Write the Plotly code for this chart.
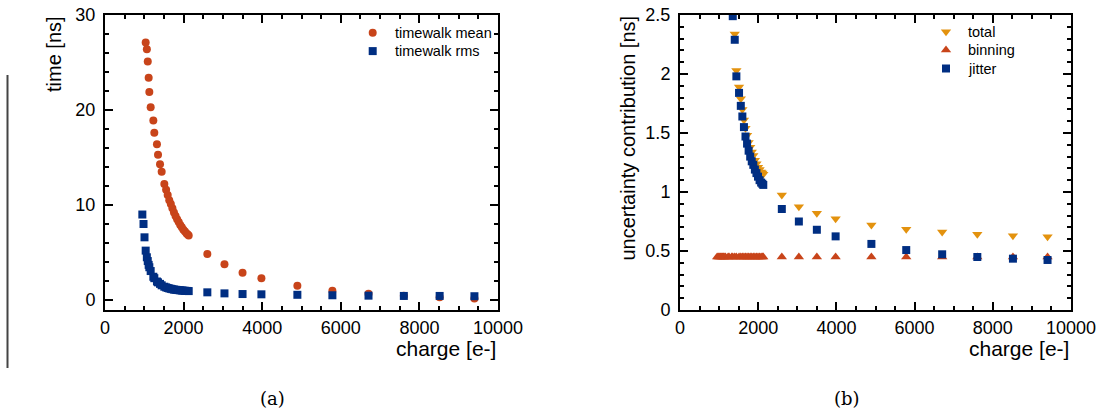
import plotly.graph_objects as go

# ---------------- data ----------------
charge = [950, 980, 1005, 1035, 1065, 1088, 1111, 1128, 1162, 1230, 1255, 1322, 1349,
          1400, 1442, 1510, 1555, 1595, 1635, 1675, 1715, 1755, 1795, 1835, 1875, 1915,
          1955, 1995, 2035, 2075, 2105, 2130,
          2604, 3040, 3500, 3980, 4895, 5786, 6705, 7604, 8515, 9400]

timewalk_mean = [None, None, None, 27.1, 26.4, 25.1, 23.4, 21.9, 20.3, 18.9, 17.6, 16.4, 15.3,
                 14.3, 13.5, 12.2, 11.6, 11.05, 10.5, 10.1, 9.65, 9.2, 8.85, 8.5, 8.2, 7.9,
                 7.65, 7.4, 7.2, 7.0, 6.9, 6.8,
                 4.84, 3.76, 2.88, 2.28, 1.5, 0.98, 0.66, 0.45, 0.3, 0.15]

timewalk_rms = [9.0, 8.0, 6.6, 5.2, 4.5, 4.1, 3.7, 3.45, 3.05, 2.45, 2.3, 1.95, 1.86,
                1.7, 1.55, 1.4, 1.33, 1.27, 1.22, 1.18, 1.14, 1.1, 1.08, 1.06, 1.04, 1.02,
                1.0, 0.99, 0.97, 0.96, 0.95, 0.94,
                0.81, 0.70, 0.63, 0.60, 0.55, 0.50, 0.46, 0.43, 0.43, 0.40]

total = [None, None, None, None, None, None, None, None, None, None, None, None, None,
         2.34, 2.03, 1.89, 1.79, 1.70, 1.61, 1.54, 1.48, 1.42, 1.38, 1.34, 1.31, 1.27,
         1.24, 1.21, 1.19, 1.17, 1.16, 1.15,
         0.975, 0.876, 0.82, 0.774, 0.72, 0.684, 0.661, 0.641, 0.63, 0.621]

binning = [0.45, 0.45, 0.45, 0.45, 0.45, 0.45, 0.45, 0.45, 0.45, 0.45, 0.45, 0.45, 0.45,
           0.45, 0.45, 0.45, 0.45, 0.45, 0.45, 0.45, 0.45, 0.45, 0.45, 0.45, 0.45, 0.45,
           0.45, 0.45, 0.45, 0.45, 0.45, 0.45,
           0.45, 0.45, 0.45, 0.45, 0.45, 0.45, 0.45, 0.45, 0.45, 0.45]

jitter = [None, None, None, None, None, None, None, None, None, None, None, None, 2.49,
          2.29, 1.98, 1.84, 1.73, 1.64, 1.55, 1.47, 1.41, 1.35, 1.30, 1.26, 1.23, 1.19,
          1.16, 1.13, 1.10, 1.08, 1.07, 1.06,
          0.856, 0.75, 0.68, 0.624, 0.56, 0.508, 0.472, 0.449, 0.435, 0.424]

left_names = ["timewalk mean", "timewalk rms"]
right_names = ["total", "binning", "jitter"]

x_tickvals = [0, 2000, 4000, 6000, 8000, 10000]
left_y_tickvals = [0, 10, 20, 30]
right_y_tickvals = [0, 0.5, 1, 1.5, 2, 2.5]

# ---------------- style ----------------
RED = "#C8441A"
BLUE = "#002E82"
ORANGE = "#E3920E"
FONT = "Liberation Sans"
W, H = 1096, 410


def px_x(p):
    return p / W


def px_y(p):
    return 1 - p / H


fig = go.Figure()

mk_mean = dict(symbol="circle", size=8, color=RED, line=dict(width=0))
mk_rms = dict(symbol="square", size=8, color=BLUE, line=dict(width=0))
mk_total = dict(symbol="triangle-down", size=9, color=ORANGE, line=dict(width=0))
mk_bin = dict(symbol="triangle-up", size=9, color=RED, line=dict(width=0))
mk_jit = dict(symbol="square", size=8, color=BLUE, line=dict(width=0))

fig.add_trace(go.Scatter(x=charge, y=timewalk_mean, mode="markers", name=left_names[0],
                         marker=mk_mean, xaxis="x", yaxis="y", showlegend=False))
fig.add_trace(go.Scatter(x=charge, y=timewalk_rms, mode="markers", name=left_names[1],
                         marker=mk_rms, xaxis="x", yaxis="y", showlegend=False))
fig.add_trace(go.Scatter(x=charge, y=total, mode="markers", name=right_names[0],
                         marker=mk_total, xaxis="x2", yaxis="y2", showlegend=False))
fig.add_trace(go.Scatter(x=charge, y=binning, mode="markers", name=right_names[1],
                         marker=mk_bin, xaxis="x2", yaxis="y2", showlegend=False))
fig.add_trace(go.Scatter(x=charge, y=jitter, mode="markers", name=right_names[2],
                         marker=mk_jit, xaxis="x2", yaxis="y2", showlegend=False))

# legend keys drawn on a full-page overlay axis measured in pixels
leg_left_x, leg_left_y0, leg_right_x, leg_right_y0, leg_dy = 372.7, 32.7, 946, 31.7, 18.4
for i, mk in enumerate([mk_mean, mk_rms]):
    fig.add_trace(go.Scatter(x=[leg_left_x], y=[leg_left_y0 + i * leg_dy], mode="markers",
                             marker=mk, xaxis="x3", yaxis="y3", showlegend=False,
                             hoverinfo="skip", cliponaxis=False))
for i, mk in enumerate([mk_total, mk_bin, mk_jit]):
    fig.add_trace(go.Scatter(x=[leg_right_x], y=[leg_right_y0 + i * leg_dy], mode="markers",
                             marker=mk, xaxis="x3", yaxis="y3", showlegend=False,
                             hoverinfo="skip", cliponaxis=False))


def axis(**kw):
    d = dict(showline=True, linecolor="black", linewidth=2, mirror="ticks",
             ticks="inside", ticklen=8, tickwidth=1.5, tickcolor="black",
             showgrid=False, zeroline=False, automargin=False,
             ticklabeloverflow="allow",
             tickfont=dict(family=FONT, size=18, color="black"))
    d.update(kw)
    return d


ydom = [px_y(310), px_y(15)]

fig.update_layout(
    width=W, height=H,
    margin=dict(l=0, r=0, t=0, b=0, pad=0, autoexpand=False),
    paper_bgcolor="white", plot_bgcolor="rgba(0,0,0,0)",
    font=dict(family=FONT, color="black"),
    showlegend=False,
    xaxis=axis(domain=[px_x(105), px_x(498)], range=[0, 10000], anchor="y",
               tickvals=x_tickvals, tickformat="d",
               minor=dict(ticks="inside", ticklen=4, dtick=500, tick0=0, tickcolor="black", tickwidth=1.5)),
    yaxis=axis(domain=ydom, range=[-1.05, 30], anchor="x",
               tickvals=left_y_tickvals, ticklabelstandoff=4,
               minor=dict(ticks="inside", ticklen=4, dtick=2, tick0=0, tickcolor="black", tickwidth=1.5)),
    xaxis2=axis(domain=[px_x(680), px_x(1071)], range=[0, 10000], anchor="y2",
                tickvals=x_tickvals, tickformat="d",
                minor=dict(ticks="inside", ticklen=4, dtick=500, tick0=0, tickcolor="black", tickwidth=1.5)),
    yaxis2=axis(domain=ydom, range=[0, 2.5], anchor="x2",
                tickvals=right_y_tickvals, ticklabelstandoff=4,
                minor=dict(ticks="inside", ticklen=4, dtick=0.1, tick0=0, tickcolor="black", tickwidth=1.5)),
    xaxis3=dict(domain=[0, 1], range=[0, W], visible=False, fixedrange=True, anchor="y3"),
    yaxis3=dict(domain=[0, 1], range=[H, 0], visible=False, fixedrange=True, anchor="x3"),
)

annotations = [
    dict(text="time [ns]", x=px_x(54), y=px_y(14), xref="paper", yref="paper",
         textangle=-90, xanchor="center", yanchor="top", showarrow=False,
         font=dict(family=FONT, size=20, color="black")),
    dict(text="charge [e-]", x=px_x(498), y=px_y(348), xref="paper", yref="paper",
         xanchor="right", yanchor="middle", showarrow=False,
         font=dict(family=FONT, size=21, color="black")),
    dict(text="uncertainty contribution [ns]", x=px_x(627), y=px_y(14), xref="paper", yref="paper",
         textangle=-90, xanchor="center", yanchor="top", showarrow=False,
         font=dict(family=FONT, size=20, color="black")),
    dict(text="charge [e-]", x=px_x(1071), y=px_y(348), xref="paper", yref="paper",
         xanchor="right", yanchor="middle", showarrow=False,
         font=dict(family=FONT, size=21, color="black")),
    dict(text="(a)", x=px_x(272), y=px_y(398), xref="paper", yref="paper",
         xanchor="center", yanchor="middle", showarrow=False,
         font=dict(family="DejaVu Serif", size=18, color="black")),
    dict(text="(b)", x=px_x(847), y=px_y(398), xref="paper", yref="paper",
         xanchor="center", yanchor="middle", showarrow=False,
         font=dict(family="DejaVu Serif", size=18, color="black")),
]
for i, name in enumerate(left_names):
    annotations.append(dict(text=name, x=px_x(leg_left_x + 20), y=px_y(leg_left_y0 + i * leg_dy),
                            xref="paper", yref="paper", xanchor="left", yanchor="middle",
                            showarrow=False, font=dict(family=FONT, size=14.5, color="black")))
for i, name in enumerate(right_names):
    annotations.append(dict(text=name, x=px_x(leg_right_x + 20), y=px_y(leg_right_y0 + i * leg_dy),
                            xref="paper", yref="paper", xanchor="left", yanchor="middle",
                            showarrow=False, font=dict(family=FONT, size=14.5, color="black")))
fig.update_layout(annotations=annotations)

fig.add_shape(type="line", xref="paper", yref="paper",
              x0=px_x(7.5), x1=px_x(7.5), y0=px_y(75), y1=px_y(368),
              line=dict(color="#444444", width=2))

fig.write_html("out.html")
